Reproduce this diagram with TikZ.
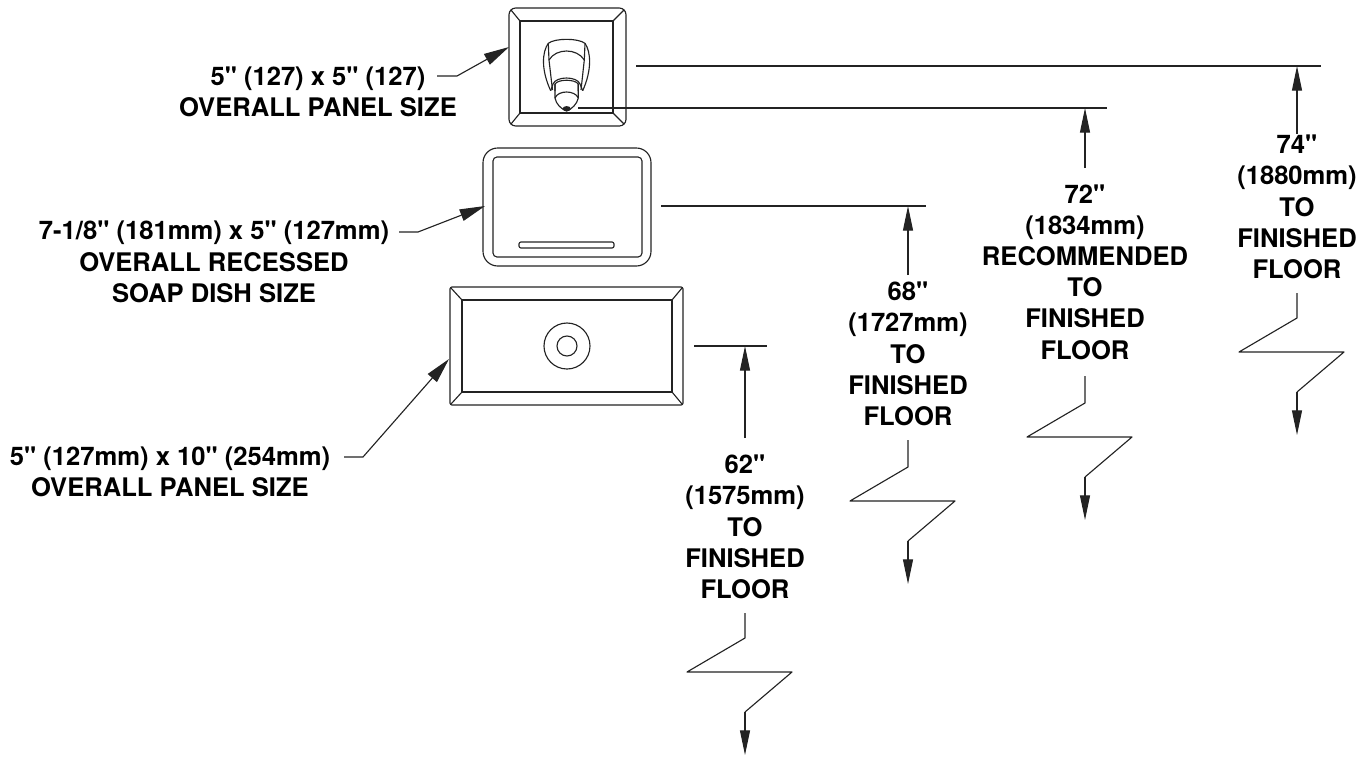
\documentclass[tikz,border=0pt]{standalone}
\usepackage{fontspec}
\setmainfont[Ligatures=TeXOff]{TeX Gyre Heros}
\usetikzlibrary{arrows.meta}
\definecolor{line_gray}{RGB}{35,35,35}

\begin{document}
\begin{tikzpicture}[x=0.75pt,y=-0.75pt,line_gray,line width=0.85pt,line join=round]
    \tikzstyle{label}=[text=black,align=center,inner sep=0pt,font=\bfseries\fontsize{19.2}{23.4}\selectfont]
    \tikzstyle{dim}=[-{Triangle[length=18.5pt,width=7.5pt]}]
    \tikzstyle{lead}=[-{Triangle[length=19pt,width=9pt]}]
    \useasboundingbox (0,0) rectangle (1372,758);

    % square panel
    \draw[rounded corners=5] (509,8) rectangle (626,126);
    \draw (520,21) rectangle (613,113);
    \draw (511,10) -- (520,21) (624,10) -- (613,21) (511,124) -- (520,113) (624,124) -- (613,113);
    % dispenser
    \draw (550.7,90.7) .. controls (541,70) and (542,52) .. (548.3,43.3)
          .. controls (555,38) and (578,38) .. (585,43.3)
          .. controls (591,52) and (592,70) .. (582.7,90.7);
    \draw (548.3,43.3) -- (549,60) -- (552.5,90);
    \draw (585,43.3) -- (584.3,60) -- (581,90);
    \draw (549,60) .. controls (556,48) and (577,48) .. (584.3,60);
    \draw (550.7,90.7) -- (553,84) .. controls (556,76) and (577,76) .. (580,84) -- (582.7,90.7);
    \draw (555,91) -- (555,84) .. controls (558,79) and (575,79) .. (578.3,84) -- (578.3,91);
    \draw (555,84) -- (555,98) .. controls (556,104) and (561,109) .. (566.7,111)
          .. controls (572,109) and (577,104) .. (578.3,98) -- (578.3,84);
    \draw (555,98) .. controls (558,90) and (575,90) .. (578.3,98);
    \draw[fill=line_gray] (566.7,108.7) ellipse (3.5 and 2);

    % soap dish
    \draw[rounded corners=11] (483,148) rectangle (651,266);
    \draw[rounded corners=3] (493,157) rectangle (642,257);
    \draw[rounded corners=1.5] (519,242) rectangle (614,248);

    % wide panel
    \draw[rounded corners=1.5] (450,287) rectangle (683,405);
    \draw (462,300) rectangle (672,392);
    \draw (451,288) -- (462,300) (682,288) -- (672,300) (451,404) -- (462,392) (682,404) -- (672,392);
    \draw (567,346) circle (23);
    \draw (567,346) circle (10);

    % labels
    \node[label] (panel_a) at (318,92)  {5" (127) x 5" (127)\\OVERALL PANEL SIZE};
    \node[label] (dish)    at (214,262) {7-1/8" (181mm) x 5" (127mm)\\OVERALL RECESSED\\SOAP DISH SIZE};
    \node[label] (panel_b) at (170,472) {5" (127mm) x 10" (254mm)\\OVERALL PANEL SIZE};
    \node[label] (h62) at (745,527) {62"\\(1575mm)\\TO\\FINISHED\\FLOOR};
    \node[label] (h68) at (908,354) {68"\\(1727mm)\\TO\\FINISHED\\FLOOR};
    \node[label] (h72) at (1085,272) {72"\\(1834mm)\\RECOMMENDED\\TO\\FINISHED\\FLOOR};
    \node[label] (h74) at (1297,207) {74"\\(1880mm)\\TO\\FINISHED\\FLOOR};

    % leaders
    \coordinate (a0) at (437,76);  \coordinate (a1) at (457,76);  \coordinate (a2) at (509,47);
    \coordinate (b0) at (399,232); \coordinate (b1) at (418,232); \coordinate (b2) at (485,206);
    \coordinate (c0) at (344,457); \coordinate (c1) at (363,457); \coordinate (c2) at (449,359);
    \draw[lead] (a0) -- (a1) -- (a2);
    \draw[lead] (b0) -- (b1) -- (b2);
    \draw[lead] (c0) -- (c1) -- (c2);

    % height lines: x / left end / right end / level / arrow foot / break top / kink
    \foreach \x/\l/\r/\y/\f/\s/\k in {745/694/767/346/438/613/638, 908/661/926/206/275/440/467,
                                      1085/578/1107/108/168/376/403, 1297/636/1321/66/134/293/318} {
      \coordinate (lev_l) at (\l,\y);
      \coordinate (lev_r) at (\r,\y);
      \coordinate (up_f) at (\x,\f);
      \coordinate (up_t) at (\x,\y);
      \coordinate (br_s) at (\x,\s);
      \coordinate (br_k) at (\x,\k);
      \coordinate (br_a) at (\x-58,\k+34);
      \coordinate (br_b) at (\x+47,\k+34);
      \coordinate (br_c) at (\x,\k+74);
      \coordinate (br_t) at (\x,\k+117);
      \draw (lev_l) -- (lev_r);
      \draw[dim] (up_f) -- (up_t);
      \draw (br_s) -- (br_k) -- (br_a) -- (br_b) -- (br_c);
      \draw[dim] (br_c) -- (br_t);
    }
\end{tikzpicture}
\end{document}
